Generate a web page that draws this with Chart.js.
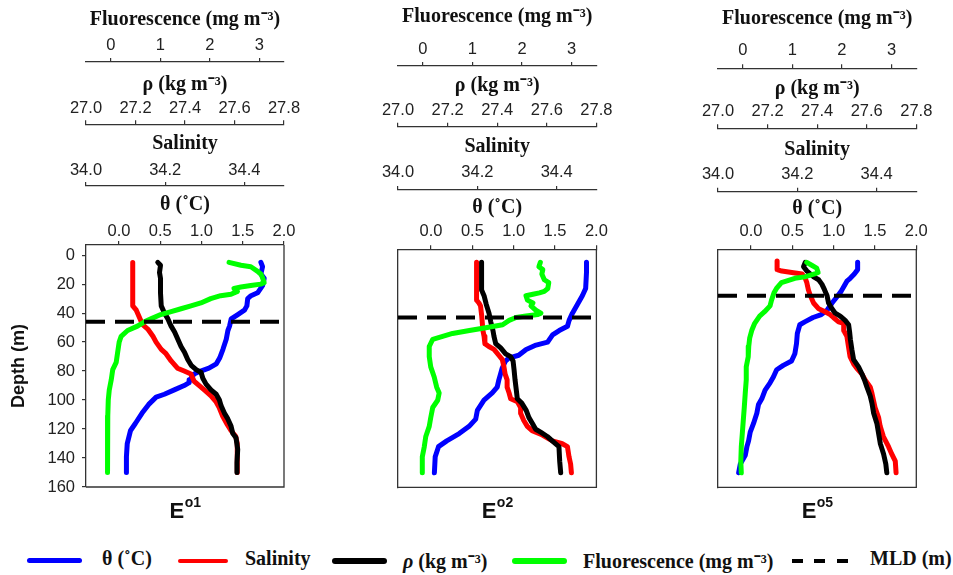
<!DOCTYPE html>
<html>
<head>
<meta charset="utf-8">
<script src="https://cdn.jsdelivr.net/npm/chart.js@4/dist/chart.umd.min.js"></script>
<style>
html,body{margin:0;padding:0;background:#fff;}
#wrap{position:relative;width:953px;height:575px;overflow:hidden;background:#fff;}
#wrap canvas{position:absolute;top:0;}
.leg{position:absolute;top:547px;line-height:24px;font:bold 20px "Liberation Serif","Times New Roman",serif;color:#111;white-space:nowrap;}
.sw{position:absolute;border-radius:3px;}
</style>
</head>
<body>
<div id="wrap">
  <div class="sw" style="left:27px;top:558px;width:55px;height:5px;background:#0000ff"></div>
  <div class="leg" style="left:102px">θ (˚C)</div>
  <div class="sw" style="left:178px;top:558.5px;width:50px;height:4px;background:#ff0000"></div>
  <div class="leg" style="left:245px">Salinity</div>
  <div class="sw" style="left:332px;top:557.5px;width:55px;height:6px;background:#000"></div>
  <div class="leg" style="left:403px"><i>ρ</i> (kg m⁻³)</div>
  <div class="sw" style="left:512px;top:557.5px;width:55px;height:6px;background:#00ff00"></div>
  <div class="leg" style="left:583px">Fluorescence (mg m⁻³)</div>
  <div class="sw" style="left:792px;top:559px;width:11px;height:4px;background:#000;border-radius:0"></div>
  <div class="sw" style="left:814px;top:559px;width:11px;height:4px;background:#000;border-radius:0"></div>
  <div class="sw" style="left:837px;top:559px;width:11px;height:4px;background:#000;border-radius:0"></div>
  <div class="leg" style="left:870px">MLD (m)</div>
</div>
<script>
// ---------- axis ranges & tick labels ----------
const thetaRange = [-0.4, 2.0];
const salRange   = [34.0, 34.5];
const rhoRange   = [27.0, 27.8];
const fluorRange = [-0.5, 3.5];
const depthMax   = 160;
const thetaTicks = [0.0, 0.5, 1.0, 1.5, 2.0];
const salTicks   = [34.0, 34.2, 34.4];
const rhoTicks   = [27.0, 27.2, 27.4, 27.6, 27.8];
const fluorTicks = [0, 1, 2, 3];
const depthTicks = [0, 20, 40, 60, 80, 100, 120, 140, 160];

// ---------- stations ----------
const stationMain = ['E', 'E', 'E'];
const stationSup  = ['o1', 'o2', 'o5'];
const mldDepth    = [46, 43, 28];

// ---------- station E o1 ----------
const p1ThetaDepth = [5, 8, 13, 16, 21, 26, 28, 30, 35, 38, 41, 44, 49, 52, 58, 65, 71, 75, 78, 80, 82, 86, 88, 90, 93, 96, 98, 103, 109, 116, 121, 130, 139, 150];
const p1Theta      = [1.72, 1.74, 1.72, 1.76, 1.74, 1.68, 1.60, 1.56, 1.55, 1.52, 1.44, 1.36, 1.34, 1.32, 1.30, 1.26, 1.22, 1.18, 1.09, 0.99, 0.91, 0.86, 0.85, 0.79, 0.67, 0.55, 0.45, 0.36, 0.28, 0.20, 0.14, 0.10, 0.09, 0.09];
const p1SalDepth   = [5, 35, 38, 43, 48, 51, 56, 60, 65, 68, 73, 78, 80, 82, 87, 90, 94, 97, 101, 105, 111, 117, 121, 125, 130, 139, 150];
const p1Sal        = [34.118, 34.118, 34.127, 34.135, 34.143, 34.156, 34.169, 34.177, 34.190, 34.202, 34.215, 34.231, 34.248, 34.265, 34.273, 34.286, 34.303, 34.315, 34.328, 34.336, 34.345, 34.357, 34.366, 34.378, 34.382, 34.382, 34.382];
const p1RhoDepth   = [5, 7, 12, 16, 26, 35, 40, 44, 49, 53, 58, 63, 67, 72, 76, 79, 81, 85, 89, 93, 96, 100, 104, 109, 113, 118, 123, 126, 134, 143, 150];
const p1Rho        = [27.290, 27.301, 27.297, 27.301, 27.301, 27.304, 27.317, 27.331, 27.344, 27.358, 27.371, 27.384, 27.398, 27.411, 27.425, 27.445, 27.465, 27.472, 27.485, 27.505, 27.526, 27.539, 27.546, 27.559, 27.573, 27.586, 27.593, 27.606, 27.613, 27.610, 27.610];
const p1FlDepth    = [5, 7, 8, 11, 13, 15, 19, 20, 21, 22, 23, 25, 27, 28, 30, 33, 35, 37, 39, 41, 44, 46, 49, 52, 56, 60, 67, 74, 79, 86, 93, 100, 111, 120, 130, 139, 150];
const p1Fl         = [2.39, 2.63, 2.83, 2.96, 3.03, 3.06, 3.10, 3.03, 2.83, 2.63, 2.49, 2.56, 2.43, 2.22, 2.02, 1.82, 1.62, 1.42, 1.22, 1.01, 0.81, 0.68, 0.54, 0.34, 0.21, 0.17, 0.14, 0.11, 0.04, 0.01, -0.03, -0.05, -0.06, -0.07, -0.07, -0.06, -0.06];

// ---------- station E o2 ----------
const p2ThetaDepth = [5, 12, 23, 28, 34, 40, 45, 49, 52, 55, 60, 62, 65, 69, 71, 73, 78, 82, 86, 91, 95, 100, 107, 113, 118, 123, 128, 132, 139, 150];
const p2Theta      = [1.88, 1.88, 1.87, 1.83, 1.77, 1.71, 1.67, 1.65, 1.55, 1.47, 1.41, 1.27, 1.15, 1.06, 0.94, 0.90, 0.86, 0.84, 0.82, 0.80, 0.74, 0.64, 0.56, 0.54, 0.46, 0.34, 0.19, 0.09, 0.05, 0.04];
const p2SalDepth   = [5, 31, 33, 35, 42, 52, 56, 61, 63, 65, 69, 72, 77, 82, 86, 91, 95, 99, 101, 105, 109, 114, 118, 121, 124, 128, 130, 132, 139, 144, 150];
const p2Sal        = [34.198, 34.198, 34.204, 34.208, 34.211, 34.214, 34.217, 34.219, 34.229, 34.242, 34.254, 34.263, 34.267, 34.270, 34.275, 34.275, 34.280, 34.284, 34.301, 34.309, 34.309, 34.317, 34.326, 34.338, 34.364, 34.389, 34.414, 34.427, 34.431, 34.435, 34.437];
const p2RhoDepth   = [5, 24, 28, 34, 40, 46, 52, 56, 61, 64, 68, 70, 73, 79, 86, 93, 99, 102, 107, 112, 116, 120, 122, 125, 129, 132, 142, 150];
const p2Rho        = [27.337, 27.337, 27.347, 27.356, 27.367, 27.374, 27.383, 27.387, 27.394, 27.414, 27.434, 27.454, 27.464, 27.468, 27.472, 27.477, 27.481, 27.499, 27.517, 27.528, 27.542, 27.555, 27.575, 27.602, 27.629, 27.649, 27.652, 27.656];
const p2FlDepth    = [5, 8, 10, 13, 17, 19, 23, 25, 26, 27, 28, 31, 33, 35, 38, 40, 41, 42, 43, 45, 48, 50, 52, 54, 56, 58, 63, 70, 77, 84, 91, 95, 100, 105, 112, 118, 125, 132, 139, 150];
const p2Fl         = [2.37, 2.34, 2.42, 2.40, 2.45, 2.54, 2.52, 2.45, 2.35, 2.22, 2.08, 2.11, 2.22, 2.18, 2.28, 2.38, 2.32, 2.08, 1.88, 1.74, 1.61, 1.27, 0.94, 0.60, 0.40, 0.20, 0.13, 0.13, 0.16, 0.23, 0.28, 0.33, 0.30, 0.20, 0.16, 0.13, 0.06, 0.03, -0.01, -0.01];

// ---------- station E o5 ----------
const p3ThetaDepth = [5, 10, 13, 16, 18, 22, 25, 28, 33, 38, 41, 43, 46, 48, 54, 61, 68, 73, 76, 79, 84, 88, 93, 99, 103, 109, 116, 122, 128, 132, 138, 144, 150];
const p3Theta      = [1.29, 1.29, 1.25, 1.20, 1.16, 1.12, 1.09, 1.05, 0.98, 0.92, 0.85, 0.75, 0.65, 0.59, 0.56, 0.55, 0.53, 0.49, 0.39, 0.31, 0.27, 0.23, 0.17, 0.13, 0.09, 0.07, 0.03, -0.01, -0.03, -0.05, -0.07, -0.13, -0.15];
const p3SalDepth   = [4, 10, 11, 12, 13, 16, 19, 24, 28, 33, 37, 39, 41, 43, 46, 47, 52, 56, 63, 70, 75, 78, 82, 86, 91, 95, 100, 105, 112, 118, 125, 132, 137, 142, 150];
const p3Sal        = [34.149, 34.149, 34.161, 34.186, 34.212, 34.220, 34.224, 34.228, 34.233, 34.241, 34.254, 34.270, 34.283, 34.291, 34.304, 34.317, 34.317, 34.325, 34.329, 34.333, 34.342, 34.350, 34.363, 34.371, 34.384, 34.388, 34.392, 34.396, 34.405, 34.409, 34.417, 34.430, 34.438, 34.447, 34.449];
const p3RhoDepth   = [5, 8, 11, 15, 17, 20, 24, 28, 33, 37, 40, 42, 45, 48, 53, 58, 65, 72, 77, 82, 86, 91, 97, 102, 109, 116, 123, 130, 137, 144, 150];
const p3Rho        = [27.352, 27.345, 27.359, 27.386, 27.406, 27.419, 27.430, 27.440, 27.446, 27.460, 27.473, 27.493, 27.513, 27.527, 27.531, 27.534, 27.540, 27.547, 27.567, 27.581, 27.591, 27.601, 27.614, 27.621, 27.628, 27.641, 27.648, 27.655, 27.668, 27.677, 27.681];
const p3FlDepth    = [5, 7, 9, 12, 13, 15, 16, 19, 23, 26, 31, 35, 39, 42, 47, 52, 57, 63, 70, 77, 86, 95, 105, 114, 123, 132, 142, 150];
const p3Fl         = [1.29, 1.39, 1.49, 1.52, 1.45, 1.25, 1.05, 0.78, 0.68, 0.63, 0.58, 0.55, 0.44, 0.34, 0.24, 0.18, 0.14, 0.12, 0.11, 0.07, 0.07, 0.05, 0.03, 0.01, -0.01, -0.03, -0.04, -0.03];

const stationData = [
  {theta:[p1ThetaDepth,p1Theta], sal:[p1SalDepth,p1Sal], rho:[p1RhoDepth,p1Rho], fl:[p1FlDepth,p1Fl]},
  {theta:[p2ThetaDepth,p2Theta], sal:[p2SalDepth,p2Sal], rho:[p2RhoDepth,p2Rho], fl:[p2FlDepth,p2Fl]},
  {theta:[p3ThetaDepth,p3Theta], sal:[p3SalDepth,p3Sal], rho:[p3RhoDepth,p3Rho], fl:[p3FlDepth,p3Fl]}
];

// ---------- layout (pixels) ----------
const LAYOUT = [
  {chartL:86,    chartR:284,   top:245,   bottom:487,   lines:[62,124.3,186],   titles:[19.5,85,144,205],    labels:[45,108,170,231],   yMin:-7, showY:true},
  {chartL:398.3, chartR:596.7, top:249.3, bottom:487.3, lines:[66,126.7,190],   titles:[17.3,85.5,146.7,208],labels:[49,110,172,231],   yMin:-4, showY:false},
  {chartL:717.7, chartR:916,   top:249.3, bottom:487.3, lines:[68.3,128.3,191.7],titles:[19.3,89.3,150,209.3],labels:[50,111.7,174,231],yMin:-4, showY:false}
];
const SANS  = '"Liberation Sans", Arial, sans-serif';
const SERIF = '"Liberation Serif", "Times New Roman", serif';
const AXIS  = '#333';
const TICKFONT = 16.5, TITLEFONT = 20, TL = 4;

function pts(pair){ return pair[0].map((d,k)=>({x:pair[1][k], y:d})); }

function topAxis(range, ticks, fmt, title, boxTop, boxBottom, titleY, labelY, weight){
  return {
    type:'linear', position:'top', min:range[0], max:range[1], weight:weight,
    afterBuildTicks: s => { s.ticks = ticks.map(v => ({value:v})); },
    afterFit: s => { s.height = boxBottom - boxTop; },
    ticks:{autoSkip:false, maxRotation:0, color:'#222', font:{family:SANS,size:TICKFONT},
           padding: boxBottom - labelY - TL - TICKFONT*0.6, callback: v => fmt(v)},
    grid:{display:true, drawOnChartArea:false, drawTicks:true, tickLength:TL, color:AXIS, lineWidth:1.2},
    border:{display:true, color:AXIS, width:1.3},
    title:{display:true, text:title, color:'#111', font:{family:SERIF,size:TITLEFONT,weight:'bold'},
           padding:{top: titleY - boxTop - TITLEFONT*0.6, bottom:0}}
  };
}

const framePlugin = {
  id:'frameAndStation',
  afterDraw(chart, args, opts){
    const {ctx, chartArea:a} = chart;
    ctx.save();
    ctx.strokeStyle = AXIS; ctx.lineWidth = 1.3;
    ctx.beginPath();
    ctx.moveTo(a.right, a.top); ctx.lineTo(a.right, a.bottom); ctx.lineTo(a.left, a.bottom);
    ctx.stroke();
    ctx.fillStyle = '#111';
    ctx.textBaseline = 'alphabetic';
    ctx.font = 'bold 22px ' + SANS;
    const w1 = ctx.measureText(opts.main).width;
    ctx.font = 'bold 14px ' + SANS;
    const w2 = ctx.measureText(opts.sup).width;
    const x0 = (a.left + a.right)/2 - (w1 + w2)/2;
    ctx.font = 'bold 22px ' + SANS;
    ctx.fillText(opts.main, x0, a.bottom + 31);
    ctx.font = 'bold 14px ' + SANS;
    ctx.fillText(opts.sup, x0 + w1 + 0.5, a.bottom + 20);
    ctx.restore();
  }
};

const wrap = document.getElementById('wrap');
const CW = 320, CH = 530, YW = 86;

LAYOUT.forEach((P, i) => {
  const cv = document.createElement('canvas');
  cv.width = CW; cv.height = CH;
  cv.style.width = CW + 'px'; cv.style.height = CH + 'px';
  cv.style.left = (P.chartL - YW) + 'px';
  wrap.appendChild(cv);
  const D = stationData[i];
  const lineDs = (label, data, axis, color, order) => ({
    label, data, xAxisID:axis, yAxisID:'y', showLine:true, borderColor:color, backgroundColor:color,
    borderWidth:5, pointRadius:0, pointHoverRadius:0, borderCapStyle:'round', borderJoinStyle:'round',
    tension:0, order
  });
  new Chart(cv, {
    type:'scatter',
    data:{datasets:[
      {label:'MLD (m)', data:[{x:thetaRange[0],y:mldDepth[i]},{x:thetaRange[1],y:mldDepth[i]}], xAxisID:'xT', yAxisID:'y',
       showLine:true, borderColor:'#000', borderWidth:4, borderDash:[19,10], borderCapStyle:'butt', pointRadius:0, order:0},
      lineDs('Fluorescence (mg m⁻³)', pts(D.fl), 'xF', '#00ff00', 1),
      lineDs('ρ (kg m⁻³)', pts(D.rho), 'xR', '#000000', 2),
      lineDs('Salinity', pts(D.sal), 'xS', '#ff0000', 3),
      lineDs('θ (˚C)', pts(D.theta), 'xT', '#0000ff', 4)
    ]},
    options:{
      responsive:false, animation:false, events:[],
      layout:{padding:{left:0, top:0, right: CW - YW - (P.chartR - P.chartL), bottom: CH - P.bottom}},
      plugins:{legend:{display:false}, tooltip:{enabled:false},
               frameAndStation:{main:stationMain[i], sup:stationSup[i]}},
      scales:{
        xF: topAxis(fluorRange, fluorTicks, v => String(v), 'Fluorescence (mg m⁻³)', 0, P.lines[0], P.titles[0], P.labels[0], 3),
        xR: topAxis(rhoRange, rhoTicks, v => v.toFixed(1), 'ρ (kg m⁻³)', P.lines[0], P.lines[1], P.titles[1], P.labels[1], 2),
        xS: topAxis(salRange, salTicks, v => v.toFixed(1), 'Salinity', P.lines[1], P.lines[2], P.titles[2], P.labels[2], 1),
        xT: topAxis(thetaRange, thetaTicks, v => v.toFixed(1), 'θ (˚C)', P.lines[2], P.top, P.titles[3], P.labels[3], 0),
        y:{
          type:'linear', position:'left', reverse:true, min:P.yMin, max:depthMax,
          afterBuildTicks: s => { s.ticks = depthTicks.map(v => ({value:v})); },
          afterFit: s => { s.width = YW; },
          ticks:{display:P.showY, autoSkip:false, color:'#222', font:{family:SANS,size:TICKFONT}, padding:7},
          grid:{display:true, drawOnChartArea:false, drawTicks:P.showY, tickLength:TL, color:AXIS, lineWidth:1.2},
          border:{display:true, color:AXIS, width:1.3},
          title:{display:P.showY, text:'Depth (m)', color:'#111', font:{family:SANS,size:18,weight:'bold'}, padding:{top:8,bottom:0}}
        }
      }
    },
    plugins:[framePlugin]
  });
});
</script>
</body>
</html>
